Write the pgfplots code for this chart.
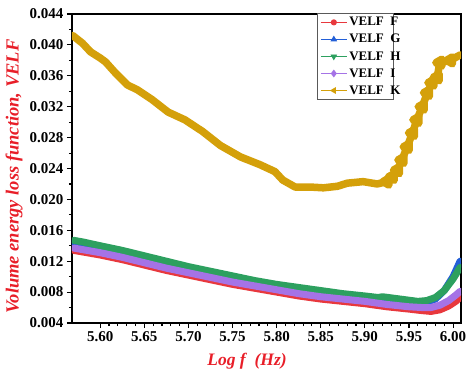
\documentclass[border=0pt]{standalone}
\usepackage{fontspec}
\setmainfont{Liberation Serif}
\usepackage{pgfplots}
\pgfplotsset{compat=1.18}
\definecolor{cF}{RGB}{232,56,61}
\definecolor{cG}{RGB}{35,95,215}
\definecolor{cH}{RGB}{45,160,95}
\definecolor{cI}{RGB}{165,115,230}
\definecolor{cK}{RGB}{212,160,10}
\definecolor{lred}{RGB}{232,30,40}
\newcommand{\legtxt}[1]{\makebox[39pt][l]{\bfseries\fontsize{13}{15}\selectfont VELF~~#1}}
\begin{document}
\begin{tikzpicture}
\begin{axis}[
  scale only axis, width=389pt, height=309pt,
  at={(0,0)}, anchor=south west,
  xmin=5.568, xmax=6.009, ymin=0.004, ymax=0.044,
  xtick={5.60,5.65,...,6.001}, ytick={0.004,0.008,...,0.0441},
  minor x tick num=4, minor y tick num=1,
  axis line style={line width=1.4pt},
  tick style={black, line width=1.1pt},
  major tick length=5pt, minor tick length=3pt,
  tick align=outside, xtick pos=bottom, ytick pos=left,
  /pgf/number format/assume math mode=true,
  xticklabel style={/pgf/number format/.cd, fixed, fixed zerofill, precision=2},
  yticklabel style={/pgf/number format/.cd, fixed, fixed zerofill, precision=3},
  scaled y ticks=false, scaled x ticks=false,
  tick label style={font=\bfseries\fontsize{15}{17}\selectfont},
  xlabel={\textbf{\textit{Log f\ \ (Hz)}}},
  ylabel={\textbf{\textit{Volume energy loss function, VELF}}},
  xlabel style={at={(axis description cs:0.45,-0.123)}, anchor=center, font=\fontsize{17.5}{19}\selectfont, text=lred},
  ylabel style={at={(axis description cs:-0.149,0.474)}, anchor=center, font=\fontsize{18.5}{20}\selectfont, text=lred},
  legend style={at={(0.63,1.003)}, anchor=north west, draw=gray!70!black, line width=0.6pt, fill=white,
    row sep=3pt, nodes={anchor=west, inner sep=2pt}},
  legend image code/.code={\draw[mark repeat=2,mark phase=2,#1] plot coordinates {(0pt,0pt)(13pt,0pt)(26pt,0pt)};},
]
\addlegendimage{cF, line width=0.9pt, mark=*, mark size=2.6pt}
\addlegendentry{\legtxt{F}}
\addlegendimage{cG, line width=0.9pt, mark=triangle*, mark size=3pt}
\addlegendentry{\legtxt{G}}
\addlegendimage{cH, line width=0.9pt, mark=triangle*, mark size=3pt, mark options={rotate=180}}
\addlegendentry{\legtxt{H}}
\addlegendimage{cI, line width=0.9pt, mark=diamond*, mark size=3.2pt}
\addlegendentry{\legtxt{I}}
\addlegendimage{cK, line width=0.9pt, mark=triangle*, mark size=3pt, mark options={rotate=90}}
\addlegendentry{\legtxt{K}}

% F
\addplot[forget plot, cF, line width=7pt, line join=round, line cap=round] coordinates {
(5.570,0.0134)(5.600,0.0128)(5.625,0.0122)(5.650,0.0115)(5.675,0.0108)(5.700,0.0102)
(5.725,0.0096)(5.750,0.0090)(5.775,0.0085)(5.800,0.0080)(5.825,0.0075)(5.850,0.0071)
(5.875,0.0068)(5.900,0.0065)(5.925,0.0061)(5.950,0.0058)(5.965,0.0056)(5.975,0.0055)
(5.985,0.0057)(5.995,0.0062)(6.003,0.0068)(6.008,0.0073)};
% G
\addplot[forget plot, cG, line width=7pt, line join=round, line cap=round] coordinates {
(5.570,0.0144)(5.580,0.0142)(5.600,0.0138)(5.625,0.0132)(5.650,0.0125)(5.675,0.0118)
(5.700,0.0111)(5.725,0.0105)(5.750,0.0099)(5.775,0.0093)(5.800,0.0088)(5.825,0.0084)
(5.850,0.0080)(5.875,0.0076)(5.900,0.0073)(5.915,0.0071)(5.920,0.0072)(5.940,0.0069)
(5.960,0.0066)(5.970,0.0067)(5.980,0.0071)(5.990,0.0082)(6.000,0.0100)(6.008,0.0120)};
% H
\addplot[forget plot, cH, line width=7pt, line join=round, line cap=round] coordinates {
(5.570,0.0147)(5.580,0.0145)(5.600,0.0140)(5.625,0.0134)(5.650,0.0127)(5.675,0.0120)
(5.700,0.0113)(5.725,0.0107)(5.750,0.0101)(5.775,0.0095)(5.800,0.0090)(5.825,0.0086)
(5.850,0.0082)(5.875,0.0078)(5.900,0.0075)(5.915,0.0073)(5.920,0.0074)(5.940,0.0071)
(5.960,0.0068)(5.970,0.0069)(5.980,0.0073)(5.990,0.0082)(6.000,0.0097)(6.008,0.0112)};
% I
\addplot[forget plot, cI, line width=7pt, line join=round, line cap=round] coordinates {
(5.570,0.0137)(5.600,0.0131)(5.625,0.0125)(5.650,0.0118)(5.675,0.0111)(5.700,0.0105)
(5.725,0.0099)(5.750,0.0093)(5.775,0.0088)(5.800,0.0083)(5.825,0.0078)(5.850,0.0074)
(5.875,0.0071)(5.900,0.0068)(5.925,0.0064)(5.950,0.0061)(5.965,0.0060)(5.975,0.0060)
(5.985,0.0063)(5.995,0.0069)(6.003,0.0076)(6.008,0.0081)};
% K
\addplot[forget plot, cK, line width=7.5pt, line join=round, line cap=round,
  mark=triangle*, mark size=4pt, mark options={rotate=90}, mark indices={25,...,37}] coordinates {
(5.569,0.0412)(5.580,0.0402)(5.589,0.0391)(5.600,0.0383)(5.606,0.0378)(5.617,0.0364)
(5.631,0.0348)(5.642,0.0342)(5.659,0.0329)(5.677,0.0313)(5.696,0.0303)(5.716,0.0288)
(5.736,0.0270)(5.759,0.0255)(5.781,0.0245)(5.798,0.0236)(5.807,0.0225)(5.821,0.0216)
(5.838,0.0216)(5.853,0.0215)(5.869,0.0217)(5.880,0.0221)(5.898,0.0223)(5.914,0.0220)
(5.925,0.0223)(5.931,0.0229)(5.937,0.0238)(5.942,0.0251)(5.948,0.0268)(5.954,0.0286)
(5.959,0.0303)(5.965,0.0320)(5.971,0.0338)(5.976,0.0351)(5.982,0.0358)(5.985,0.0377)
(5.997,0.0380)(6.008,0.0387)};
\end{axis}
\pgfresetboundingbox
\useasboundingbox (-72pt,-55pt) rectangle (402pt,323pt);
\end{tikzpicture}
\end{document}
